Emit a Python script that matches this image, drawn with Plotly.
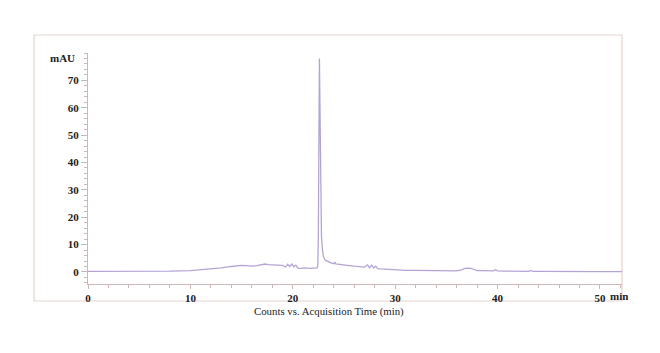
import plotly.graph_objects as go

# Chromatogram trace (time in min, signal in mAU)
time_min = [0, 2, 4, 6, 8, 10, 11, 12, 13, 14, 14.5, 15, 15.5, 16, 16.5, 17, 17.3, 17.6,
            18, 18.5, 19, 19.3, 19.5, 19.7, 19.9, 20.1, 20.3, 20.5, 20.8, 21.2, 21.6, 22.0,
            22.4, 22.45, 22.5, 22.55, 22.6, 22.65, 22.7, 22.75, 22.8, 22.9, 23.0, 23.2,
            23.5, 23.8, 24.0, 24.1, 24.2, 24.5, 25, 25.5, 26, 26.5, 27, 27.3, 27.5, 27.7,
            27.9, 28.1, 28.3, 28.6, 29, 29.5, 30, 31, 32, 33, 34, 35, 36, 36.5, 36.8, 37.1,
            37.4, 37.7, 38, 38.5, 39, 39.6, 39.8, 40, 40.5, 41, 42, 43, 43.2, 43.5, 44, 46,
            48, 50, 52.2]
signal_mau = [0.2, 0.2, 0.1, 0.2, 0.3, 0.5, 0.8, 1.1, 1.5, 2.0, 2.2, 2.4, 2.3, 2.1, 2.3, 2.7, 2.9, 2.7,
              2.6, 2.5, 2.4, 1.8, 2.8, 2.0, 2.9, 1.9, 2.5, 1.4, 1.3, 1.5, 1.3, 1.4,
              1.5, 3.0, 15.0, 48.0, 78.0, 62.0, 38.0, 22.0, 13.0, 8.0, 5.5, 4.2,
              3.6, 3.2, 3.0, 3.6, 2.9, 2.7, 2.5, 2.3, 2.1, 2.0, 1.8, 2.6, 1.5, 2.5,
              1.4, 2.1, 1.2, 1.1, 1.0, 0.8, 0.7, 0.6, 0.6, 0.5, 0.5, 0.4, 0.4, 0.8, 1.3, 1.4,
              1.3, 0.9, 0.5, 0.5, 0.4, 0.4, 0.8, 0.4, 0.3, 0.3, 0.3, 0.2, 0.5, 0.2, 0.2, 0.1,
              0.1, 0.1, 0.1]

x_ticks = [0, 10, 20, 30, 40, 50]
y_ticks = [0, 10, 20, 30, 40, 50, 60, 70]

axis_col = "#cdb6b6"
frame_col = "#e6d2ce"
line_col = "#b4a4d6"
text_col = "#222222"
serif = "Liberation Serif, Times New Roman, serif"

fig = go.Figure()
fig.add_trace(go.Scatter(x=time_min, y=signal_mau, mode="lines",
                         line=dict(color=line_col, width=1.3), hoverinfo="skip"))

fig.update_layout(
    width=660, height=353,
    margin=dict(l=88, r=38, t=53, b=69),
    paper_bgcolor="white", plot_bgcolor="white",
    showlegend=False,
    font=dict(family=serif, size=11, color=text_col),
)

fig.update_xaxes(
    range=[0, 52.15], tickvals=x_ticks, ticktext=[str(v) for v in x_ticks],
    showgrid=False, zeroline=False, showline=True, linecolor=axis_col, linewidth=1,
    ticks="outside", ticklen=4, tickcolor=axis_col, tickwidth=1,
    tickfont=dict(family=serif, size=11, color=text_col, weight="bold"),
    minor=dict(dtick=2, ticks="outside", ticklen=3, tickcolor=axis_col),
)
fig.update_yaxes(
    range=[-4.4, 80], tickvals=y_ticks, ticktext=[str(v) for v in y_ticks],
    showgrid=False, zeroline=False, showline=True, linecolor=axis_col, linewidth=1,
    ticks="outside", ticklen=6, tickcolor=axis_col, tickwidth=1,
    tickfont=dict(family=serif, size=11, color=text_col, weight="bold"),
    minor=dict(dtick=2, ticks="outside", ticklen=3, tickcolor=axis_col),
)

# outer frame
fig.add_shape(type="rect", xref="paper", yref="paper",
              x0=-0.101, x1=1.0, y0=-0.0736, y1=1.078,
              line=dict(color=frame_col, width=1.2), layer="below")

fig.add_annotation(text="mAU", xref="paper", yref="y", x=-0.02, y=78,
                   xanchor="right", yanchor="middle", showarrow=False,
                   font=dict(family=serif, size=11, color=text_col, weight="bold"))
fig.add_annotation(text="min", xref="x", yref="paper", x=50.75, y=-0.052,
                   xanchor="left", yanchor="middle", showarrow=False,
                   font=dict(family=serif, size=11, color=text_col, weight="bold"))
fig.add_annotation(text="Counts vs. Acquisition Time (min)", xref="paper", yref="paper",
                   x=0.451, y=-0.117, xanchor="center", yanchor="middle", showarrow=False,
                   font=dict(family=serif, size=10.8, color=text_col))

fig.write_html("out.html")
